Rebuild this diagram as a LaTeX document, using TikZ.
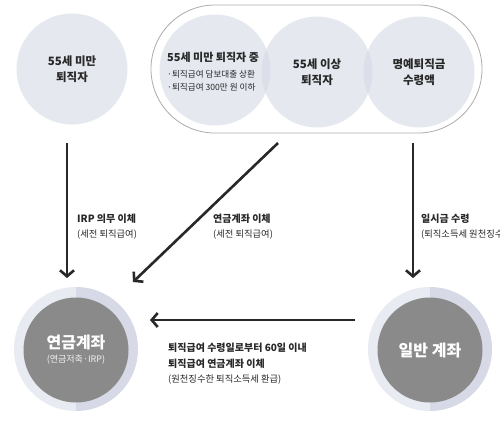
\documentclass[tikz,border=0pt]{standalone}
\usepackage{fontspec}
\setmainfont{Noto Sans CJK KR}
\usetikzlibrary{arrows.meta,positioning,calc}

\definecolor{bubble}{RGB}{214,217,231}
\definecolor{ringlight}{RGB}{233,235,242}
\definecolor{ringdark}{RGB}{215,218,230}
\definecolor{core}{RGB}{138,138,138}
\definecolor{ink}{RGB}{40,40,40}

\begin{document}
\begin{tikzpicture}[
  x=1pt, y=-1pt,
  font=\fontsize{10}{12}\selectfont,
  bubblenode/.style={circle, minimum size=111pt, inner sep=0pt, fill=bubble, fill opacity=0.6,
    text opacity=1, text=ink, align=center, font=\fontsize{11.5}{16.5}\selectfont\bfseries},
  ringnode/.style={circle, minimum size=124pt, inner sep=0pt,
    path picture={
      \fill[ringlight] (path picture bounding box.south west) rectangle (path picture bounding box.north);
      \fill[ringdark] (path picture bounding box.south) rectangle (path picture bounding box.north east);
    }},
  corenode/.style={circle, minimum size=105pt, inner sep=0pt, fill=core, text=white, align=center},
  flowlabel/.style={anchor=west, align=left, text=ink, inner sep=0pt},
  arr/.style={draw=ink, line width=2.6pt, -{Straight Barb[length=6pt, width=14pt]}}
]
  \clip (0,0) rectangle (500,421);
  \fill[white] (0,0) rectangle (500,421);

  % top row
  \node[bubblenode] (young) at (72,69) {55세 미만\\퇴직자};
  \node[draw=gray!65, line width=0.8pt, rounded corners=64pt, fill=white,
    minimum width=331pt, minimum height=128pt] (group) at (316.5,69) {};
  \node[bubblenode] (loan) at (215,70) {};
  \node[bubblenode] (old) at (317,72) {55세 이상\\퇴직자};
  \node[bubblenode] (honor) at (419,72) {명예퇴직금\\수령액};
  \node[flowlabel, text=ink, font=\fontsize{11}{13}\selectfont\bfseries] (loantext) at (167,72)
    {55세 미만 퇴직자 중\\[3pt]{\fontsize{8.6}{13}\selectfont\mdseries ·퇴직급여 담보대출 상환}\\{\fontsize{8.6}{13}\selectfont\mdseries ·퇴직급여 300만 원 이하}};

  % bottom row
  \node[ringnode] (pension) at (76,349) {};
  \node[corenode] (pensioncore) at (76,350)
    {{\fontsize{16}{18}\selectfont\bfseries 연금계좌}\\[2pt]{\fontsize{9}{10}\selectfont\color{white!90!gray}(연금저축·IRP)}};
  \node[ringnode] (general) at (430,349) {};
  \node[corenode, font=\fontsize{16}{18}\selectfont\bfseries] (generalcore) at (430,350) {일반 계좌};

  % connectors
  \coordinate (irpfrom) at ($(young)+(-5,74)$);
  \coordinate (irpto) at ($(pension)+(-9,-71)$);
  \coordinate (transfrom) at ($(group)+(-38.5,74)$);
  \coordinate (transto) at ($(pension)+(57,-67)$);
  \coordinate (lumpfrom) at ($(group)+(96.5,74)$);
  \coordinate (lumpto) at ($(general)+(-17,-71)$);
  \coordinate (backfrom) at ($(general)+(-75,-29)$);
  \coordinate (backto) at ($(pension)+(74,-29)$);
  \draw[arr] (irpfrom) -- (irpto);
  \draw[arr] (transfrom) -- (transto);
  \draw[arr] (lumpfrom) -- (lumpto);
  \draw[arr] (backfrom) -- (backto);

  % labels
  \node[flowlabel] (irplabel) at (77,227)
    {\textbf{IRP 의무 이체}\\[3pt]{\fontsize{9.3}{11}\selectfont(세전 퇴직급여)}};
  \node[flowlabel] (translabel) at (213,227)
    {\textbf{연금계좌 이체}\\[3pt]{\fontsize{9.3}{11}\selectfont(세전 퇴직급여)}};
  \node[flowlabel] (lumplabel) at (421,227)
    {\textbf{일시금 수령}\\[3pt]{\fontsize{9.3}{11}\selectfont(퇴직소득세 원천징수)}};
  \node[flowlabel] (backlabel) at (168,364)
    {\textbf{퇴직급여 수령일로부터 60일 이내}\\[4pt]\textbf{퇴직급여 연금계좌 이체}\\[3pt]{\fontsize{9.3}{11}\selectfont(원천징수한 퇴직소득세 환급)}};
\end{tikzpicture}
\end{document}
